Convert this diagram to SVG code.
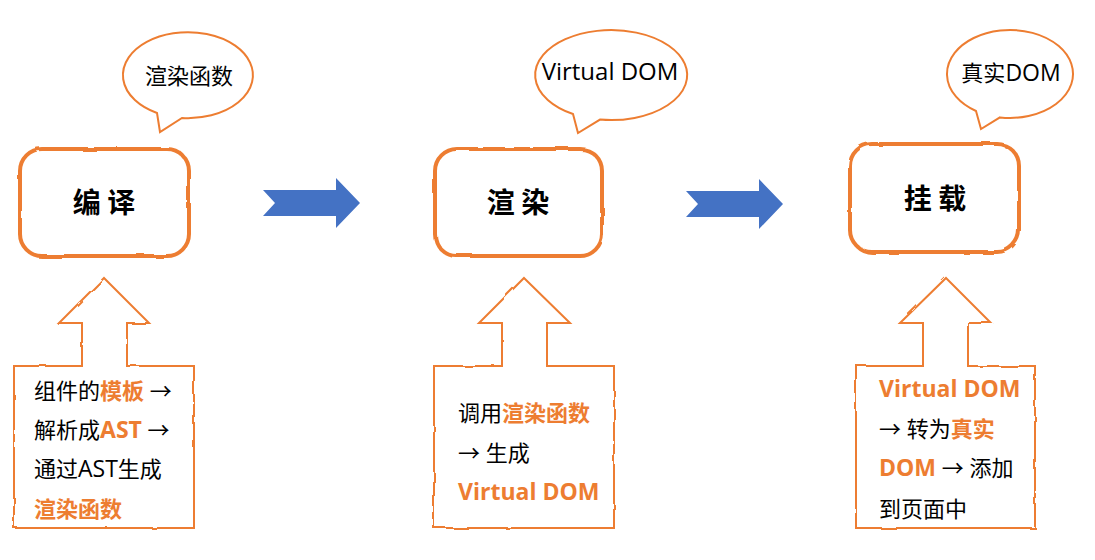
<svg xmlns="http://www.w3.org/2000/svg" width="1095" height="560" viewBox="0 0 1095 560">
<style>
.box{fill:#fff;stroke:#ED7D31;stroke-width:4;}
.call{fill:#fff;stroke:#ED7D31;stroke-width:2;stroke-linejoin:miter;}
.bub{fill:#fff;stroke:#ED7D31;stroke-width:2;}
.flow{fill:#4472C4;}
.t{font-family:"Open Sans","Noto Sans CJK SC",sans-serif;font-size:22px;fill:#000;}
.lat{font-size:23px;}
.ar{font-family:"Noto Sans CJK SC",sans-serif;}
.title{font-family:"Noto Sans CJK SC",sans-serif;font-size:28px;font-weight:bold;fill:#000;text-anchor:middle;}
.hl{font-weight:bold;fill:#ED7D31;}
.bt{font-family:"Open Sans","Noto Sans CJK SC",sans-serif;font-size:22px;fill:#000;text-anchor:middle;}
</style>
<defs>
<filter id="rough" x="-10%" y="-10%" width="120%" height="120%">
<feTurbulence type="fractalNoise" baseFrequency="0.04" numOctaves="2" seed="4"/>
<feDisplacementMap in="SourceGraphic" scale="3"/>
</filter>
</defs>
<rect width="1095" height="560" fill="#fff"/>

<g id="connectors">
<path class="flow" d="M263,190 L336,190 L336,178 L360,203 L336,228 L336,216 L263,216 L275,203 Z"/>
<path class="flow" d="M686,191 L759,191 L759,179 L783,204 L759,229 L759,217 L686,217 L698,204 Z"/>
</g>

<g id="bubble1">
<path class="bub" d="M157,113 L160,132 L182,118 A65,43 0 1 0 157,113 Z"/>
<text class="bt" x="189" y="84">渲染函数</text>
</g>
<g id="bubble2">
<path class="bub" d="M573,114 L578,133 L600,119.6 A76,45 0 1 0 573,114 Z"/>
<text class="bt" x="610" y="80" style="font-size:24px">Virtual DOM</text>
</g>
<g id="bubble3">
<path class="bub" d="M976,111 L981,129 L1000,117.4 A63,44 0 1 0 976,111 Z"/>
<text class="bt" x="1011" y="81">真实<tspan style="font-size:23px">DOM</tspan></text>
</g>

<g id="compile">
<rect class="box" filter="url(#rough)" x="20" y="149" width="169" height="107" rx="22"/>
<text class="title" x="104" y="213">编 译</text>
</g>
<g id="render">
<rect class="box" filter="url(#rough)" x="435" y="149" width="167" height="107" rx="22"/>
<text class="title" x="518" y="213">渲 染</text>
</g>
<g id="mount">
<rect class="box" filter="url(#rough)" x="850" y="144" width="169" height="108" rx="22"/>
<text class="title" x="935" y="209">挂 载</text>
</g>

<g id="note1">
<path class="call" filter="url(#rough)" d="M104,278 L149,323 L127,323 L127,366 L194,366 L194,528 L14,528 L14,366 L82,366 L82,323 L59,323 Z"/>
<text class="t" x="34" y="399">组件的<tspan class="hl">模板</tspan> <tspan class="ar">→</tspan></text>
<text class="t" x="34" y="438">解析成<tspan class="hl lat">AST</tspan> <tspan class="ar">→</tspan></text>
<text class="t" x="34" y="477">通过<tspan class="lat">AST</tspan>生成</text>
<text class="t" x="34" y="517"><tspan class="hl">渲染函数</tspan></text>
</g>
<g id="note2">
<path class="call" filter="url(#rough)" d="M524,278 L570,323 L547,323 L547,366 L614,366 L614,528 L434,528 L434,366 L502,366 L502,323 L479,323 Z"/>
<text class="t" x="458" y="421">调用<tspan class="hl">渲染函数</tspan></text>
<text class="t" x="458" y="461"><tspan class="ar">→</tspan> 生成</text>
<text class="t" x="458" y="500"><tspan class="hl lat">Virtual DOM</tspan></text>
</g>
<g id="note3">
<path class="call" filter="url(#rough)" d="M946,278 L991,323 L968,323 L968,366 L1035,366 L1035,528 L856,528 L856,366 L923,366 L923,323 L900,323 Z"/>
<text class="t" x="879" y="397"><tspan class="hl lat">Virtual DOM</tspan></text>
<text class="t" x="879" y="437"><tspan class="ar">→</tspan> 转为<tspan class="hl">真实</tspan></text>
<text class="t" x="879" y="476"><tspan class="hl lat">DOM</tspan> <tspan class="ar">→</tspan> 添加</text>
<text class="t" x="879" y="517">到页面中</text>
</g>
</svg>
